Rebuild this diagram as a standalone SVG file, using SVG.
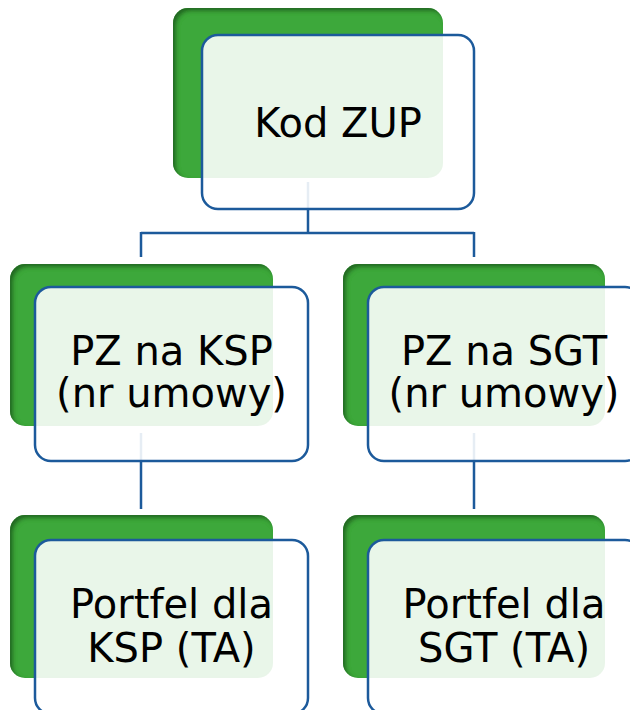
<svg xmlns="http://www.w3.org/2000/svg" width="630" height="710" viewBox="0 0 630 710">
  <defs>
    <filter id="inset" x="-10%" y="-10%" width="120%" height="120%">
      <feFlood flood-color="#1b5a1b" flood-opacity="0.9" result="f"/>
      <feComposite in="f" in2="SourceAlpha" operator="out" result="outside"/>
      <feGaussianBlur in="outside" stdDeviation="2" result="blur"/>
      <feOffset in="blur" dx="3" dy="3" result="off"/>
      <feComposite in="off" in2="SourceAlpha" operator="in" result="shadow"/>
      <feMerge>
        <feMergeNode in="SourceGraphic"/>
        <feMergeNode in="shadow"/>
      </feMerge>
    </filter>
    <style>
      .back { fill: #3ca83a; filter: url(#inset); }
      .front { fill: #ffffff; fill-opacity: 0.89; stroke: #1c5a9b; stroke-width: 2.5; }
      .conn { stroke: #1c5a9b; stroke-width: 2.5; fill: none; }
      .label { font-family: "DejaVu Sans", Verdana, sans-serif; font-size: 40px; fill: #000000; text-anchor: middle; }
    </style>
  </defs>
  <rect width="630" height="710" fill="#ffffff"/>
  <g id="connectors">
    <path class="conn" d="M308,182 V233 M141,233 H474 M141,232 V257 M474,232 V257"/>
    <path class="conn" d="M141,433 V509 M474,433 V509"/>
  </g>
  <g id="node-kod-zup">
    <rect class="back" x="173" y="8" width="270" height="170" rx="15"/>
    <rect class="front" x="202" y="35" width="272" height="174" rx="16"/>
    <text class="label" x="338" y="137">Kod ZUP</text>
  </g>
  <g id="node-pz-ksp">
    <rect class="back" x="10" y="264" width="263" height="162" rx="15"/>
    <rect class="front" x="35" y="287" width="273" height="174" rx="16"/>
    <text class="label" x="171.5" y="365">PZ na KSP</text>
    <text class="label" x="171.5" y="407">(nr umowy)</text>
  </g>
  <g id="node-pz-sgt">
    <rect class="back" x="343" y="264" width="262" height="162" rx="15"/>
    <rect class="front" x="368" y="287" width="273" height="174" rx="16"/>
    <text class="label" x="504" y="365">PZ na SGT</text>
    <text class="label" x="504" y="407">(nr umowy)</text>
  </g>
  <g id="node-portfel-ksp">
    <rect class="back" x="10" y="515" width="263" height="163" rx="15"/>
    <rect class="front" x="35" y="540" width="273" height="174" rx="16"/>
    <text class="label" x="171.5" y="618">Portfel dla</text>
    <text class="label" x="171.5" y="662">KSP (TA)</text>
  </g>
  <g id="node-portfel-sgt">
    <rect class="back" x="343" y="515" width="262" height="163" rx="15"/>
    <rect class="front" x="368" y="540" width="273" height="174" rx="16"/>
    <text class="label" x="504" y="618">Portfel dla</text>
    <text class="label" x="504" y="662">SGT (TA)</text>
  </g>
</svg>
